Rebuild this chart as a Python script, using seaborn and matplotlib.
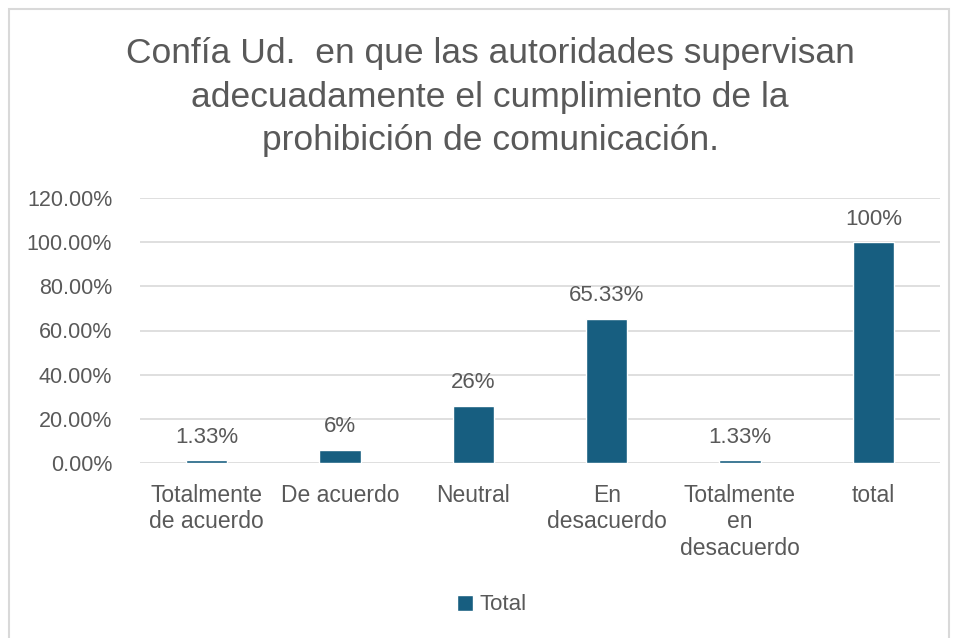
import matplotlib
matplotlib.use("Agg")
import matplotlib.pyplot as plt
import seaborn as sns
from matplotlib.patches import Rectangle
from matplotlib.ticker import PercentFormatter

categories = ["Totalmente\nde acuerdo", "De acuerdo", "Neutral", "En\ndesacuerdo",
              "Totalmente\nen\ndesacuerdo", "total"]
values = [1.33, 6, 26, 65.33, 1.33, 100]
value_labels = ["1.33%", "6%", "26%", "65.33%", "1.33%", "100%"]
series_name = "Total"
title = ("Confía Ud.  en que las autoridades supervisan\n"
         "adecuadamente el cumplimiento de la\n"
         "prohibición de comunicación.")

BAR = "#175E80"
TXT = "#595959"
GRID = "#D9D9D9"

sns.set_theme(style="white")
plt.rcParams["font.family"] = ["Liberation Sans", "DejaVu Sans"]

fig = plt.figure(figsize=(9.58, 6.38), dpi=100)
fig.patches.append(Rectangle((9 / 958, -0.01), 940 / 958, 1 - 9 / 638 + 0.01,
                             transform=fig.transFigure, fill=False,
                             edgecolor="#D9D9D9", linewidth=1.5))
ax = fig.add_axes([140 / 958, 1 - 463 / 638, 800 / 958, 265 / 638])

sns.barplot(x=categories, y=values, color=BAR, width=0.31, ax=ax,
            label=series_name, saturation=1)
ax.bar_label(ax.containers[0], labels=value_labels, padding=9,
             fontsize=16, color=TXT)

ax.set_ylim(0, 120)
ax.set_yticks(range(0, 121, 20))
ax.yaxis.set_major_formatter(PercentFormatter(decimals=2))
ax.set_xlim(-0.5, len(categories) - 0.5)
ax.grid(axis="y", color=GRID, linewidth=1.2)
ax.set_axisbelow(True)
for s in ax.spines.values():
    s.set_visible(False)
ax.tick_params(axis="y", length=0, labelsize=15.5, colors=TXT, pad=20)
ax.tick_params(axis="x", length=0, labelsize=16.5, colors=TXT, pad=15)
for lbl in ax.get_xticklabels():
    lbl.set_linespacing(1.2)
    lbl.set_verticalalignment("top")
ax.set_xlabel("")
ax.set_ylabel("")

fig.text(490 / 958, 1 - 97 / 638, title, ha="center", va="center",
         fontsize=25.5, color=TXT, linespacing=1.42)

ax.legend(loc="center", bbox_to_anchor=(492 / 958, 1 - 605 / 638),
          bbox_transform=fig.transFigure, frameon=False, fontsize=16,
          labelcolor=TXT, handlelength=0.7, handleheight=0.7, handletextpad=0.3)

fig.savefig("out.png", dpi=100)
